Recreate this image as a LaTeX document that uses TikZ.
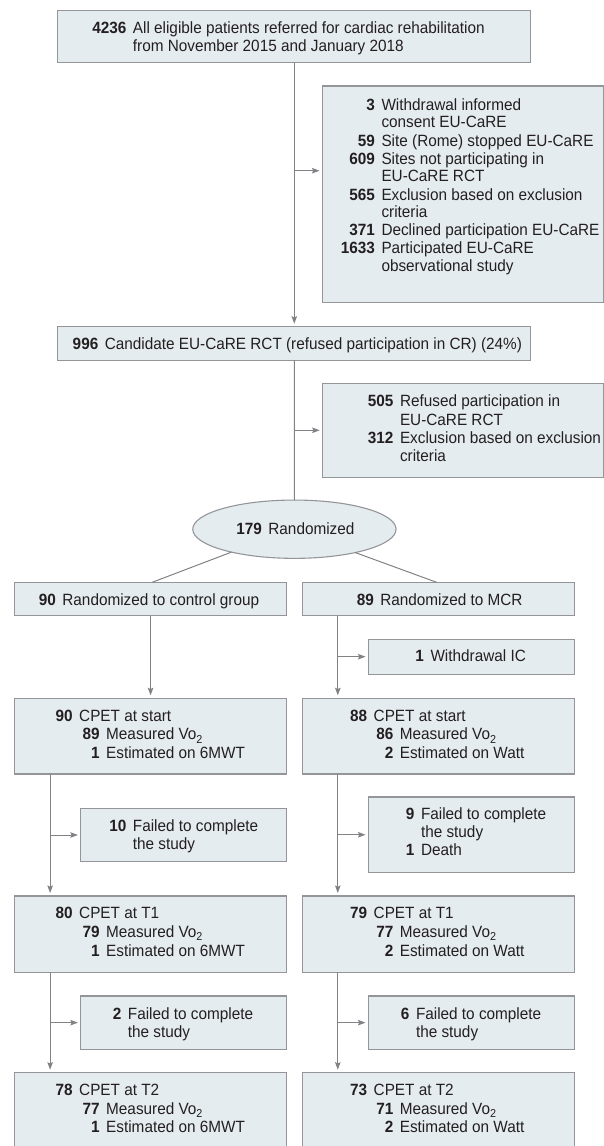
\documentclass[tikz,border=0pt]{standalone}
\usepackage{fontspec}
\setmainfont{Liberation Sans}[FakeStretch=0.94]
\usetikzlibrary{arrows.meta,shapes.geometric}
\definecolor{boxfill}{RGB}{229,236,240}
\definecolor{boxline}{RGB}{147,149,152}
\definecolor{arrc}{RGB}{128,130,133}
\definecolor{txtc}{RGB}{35,31,32}
\newlength{\numgap}\setlength{\numgap}{6.5pt}
\newcommand{\entry}[5]{\node[txt] (#1) at (#2,#3) {\llap{\textbf{#4}\hspace{\numgap}}#5};}
\newcommand{\cont}[4]{\node[txt] (#1) at (#2,#3) {#4};}
\newcommand{\subtwo}{\raisebox{-3.5pt}{\fontsize{11.5}{12}\selectfont 2}}
\begin{document}
\begin{tikzpicture}[x=1pt,y=-1pt,
 box/.style={draw=boxline, fill=boxfill, line width=1.1pt, rectangle, inner sep=0pt, outer sep=0pt, anchor=north west},
 txt/.style={anchor=base west, inner sep=0pt, outer sep=0pt, text=txtc, font=\fontsize{16.3}{18}\selectfont},
 arr/.style={draw=arrc, line width=1pt, -{Stealth[length=7.5pt,width=5.5pt,inset=1.2pt]}, shorten >=3pt},
 conn/.style={draw=arrc, line width=1pt}]
\useasboundingbox (0,0) rectangle (604,1146);
\clip (0,0) rectangle (604,1146);

% boxes
\node[box, minimum width=473pt, minimum height=52pt] (top) at (57.8,10.7) {};
\node[box, minimum width=281.1pt, minimum height=216.3pt] (ex1) at (322.5,86) {};
\node[box, minimum width=473pt, minimum height=33.6pt] (cand) at (57.8,326.7) {};
\node[box, minimum width=280.9pt, minimum height=94pt] (ex2) at (322.7,383.3) {};
\node[ellipse, draw=boxline, fill=boxfill, line width=1.1pt, minimum width=203.3pt, minimum height=58.3pt, inner sep=0pt, outer sep=0pt] (rand) at (294.4,529.2) {};
\node[box, minimum width=272.5pt, minimum height=33.4pt] (b90) at (14.3,582.3) {};
\node[box, minimum width=271.9pt, minimum height=33.4pt] (b89) at (302.6,582.3) {};
\node[box, minimum width=206pt, minimum height=35pt] (wIC) at (368.5,639.2) {};
\node[box, minimum width=272.5pt, minimum height=75.7pt] (cL0) at (14.3,698.3) {};
\node[box, minimum width=271.9pt, minimum height=75.7pt] (cR0) at (302.6,698.3) {};
\node[box, minimum width=205.9pt, minimum height=53.4pt] (fL1) at (80.9,808.3) {};
\node[box, minimum width=206pt, minimum height=75.5pt] (fR1) at (368.5,797) {};
\node[box, minimum width=272.5pt, minimum height=76.3pt] (cL1) at (14.3,896) {};
\node[box, minimum width=271.9pt, minimum height=76.3pt] (cR1) at (302.6,896) {};
\node[box, minimum width=205.9pt, minimum height=53.3pt] (fL2) at (80.9,996) {};
\node[box, minimum width=206pt, minimum height=53.3pt] (fR2) at (368.5,996) {};
\node[box, minimum width=272.5pt, minimum height=80pt] (cL2) at (14.3,1072.7) {};
\node[box, minimum width=271.9pt, minimum height=80pt] (cR2) at (302.6,1072.7) {};

% connectors
\coordinate (j1) at (294.3,170.7);
\coordinate (eL) at (152.2,582.3);
\coordinate (eR) at (436.6,582.3);
\coordinate (rc) at (337.8,0);
\coordinate (lc) at (50.1,0);
\draw[arr] (top.south) -- (cand.north);
\draw[arr] (j1) -- (j1 -| ex1.west);
\draw[conn] (cand.south) -- (rand.north);
\draw[arr] (cand.south |- ex2.west) -- (ex2.west);
\draw[conn] (rand.200.2) -- (eL);
\draw[conn] (rand.339.8) -- (eR);
\draw[arr] (b90.south) -- (cL0.north);
\draw[arr] (b89.south -| rc) -- (cR0.north -| rc);
\draw[arr] (wIC.west -| rc) -- (wIC.west);
\draw[arr] (cL0.south -| lc) -- (cL1.north -| lc);
\draw[arr] (fL1.west -| lc) -- (fL1.west);
\draw[arr] (cR0.south -| rc) -- (cR1.north -| rc);
\draw[arr] (fR1.west -| rc) -- (fR1.west);
\draw[arr] (cL1.south -| lc) -- (cL2.north -| lc);
\draw[arr] (fL2.west -| lc) -- (fL2.west);
\draw[arr] (cR1.south -| rc) -- (cR2.north -| rc);
\draw[arr] (fR2.west -| rc) -- (fR2.west);

% texts
\entry{t1}{132.9}{33.3}{4236}{All eligible patients referred for cardiac rehabilitation}
\cont{t2}{132.9}{51.3}{from November 2015 and January 2018}

\entry{e1}{381.5}{110}{3}{Withdrawal informed}
\cont{e2}{381.5}{127.7}{consent EU-CaRE}
\entry{e3}{381.5}{146}{59}{Site (Rome) stopped EU-CaRE}
\entry{e4}{381.5}{164.3}{609}{Sites not participating in}
\cont{e5}{381.5}{181.9}{EU-CaRE RCT}
\entry{e6}{381.5}{200}{565}{Exclusion based on exclusion}
\cont{e7}{381.5}{217.7}{criteria}
\entry{e8}{381.5}{235.8}{371}{Declined participation EU-CaRE}
\entry{e9}{381.5}{253.5}{1633}{Participated EU-CaRE}
\cont{e10}{381.5}{271.2}{observational study}

\entry{c1}{104.8}{349}{996}{Candidate EU-CaRE RCT (refused participation in CR) (24\%)}

\entry{x1}{400}{406.7}{505}{Refused participation in}
\cont{x2}{400}{425}{EU-CaRE RCT}
\entry{x3}{400}{443.5}{312}{Exclusion based on exclusion}
\cont{x4}{400}{461.8}{criteria}

\entry{r1}{268.4}{534.5}{179}{Randomized}
\entry{g1}{62.4}{605}{90}{Randomized to control group}
\entry{g2}{380.3}{605}{89}{Randomized to MCR}
\entry{w1}{430.5}{661.8}{1}{Withdrawal IC}

\entry{a1}{79.2}{721}{90}{CPET at start}
\entry{a2}{106.2}{739.5}{89}{Measured Vo\subtwo}
\entry{a3}{106.2}{758.3}{1}{Estimated on 6MWT}
\entry{b1}{373.7}{721}{88}{CPET at start}
\entry{b2}{399.8}{739.5}{86}{Measured Vo\subtwo}
\entry{b3}{399.8}{758.3}{2}{Estimated on Watt}

\entry{f1}{132.9}{831.3}{10}{Failed to complete}
\cont{f2}{132.9}{849.3}{the study}
\entry{h1}{421}{819.3}{9}{Failed to complete}
\cont{h2}{421}{837.3}{the study}
\entry{h3}{421}{855.3}{1}{Death}

\entry{k1}{79.2}{918.9}{80}{CPET at T1}
\entry{k2}{106.2}{937.4}{79}{Measured Vo\subtwo}
\entry{k3}{106.2}{956.2}{1}{Estimated on 6MWT}
\entry{m1}{373.7}{918.9}{79}{CPET at T1}
\entry{m2}{399.8}{937.4}{77}{Measured Vo\subtwo}
\entry{m3}{399.8}{956.2}{2}{Estimated on Watt}

\entry{p1}{127.9}{1019}{2}{Failed to complete}
\cont{p2}{127.9}{1037}{the study}
\entry{q1}{416}{1019}{6}{Failed to complete}
\cont{q2}{416}{1037}{the study}

\entry{s1}{79.2}{1095.6}{78}{CPET at T2}
\entry{s2}{106.2}{1114.1}{77}{Measured Vo\subtwo}
\entry{s3}{106.2}{1132.9}{1}{Estimated on 6MWT}
\entry{u1}{373.7}{1095.6}{73}{CPET at T2}
\entry{u2}{399.8}{1114.1}{71}{Measured Vo\subtwo}
\entry{u3}{399.8}{1132.9}{2}{Estimated on Watt}
\end{tikzpicture}
\end{document}
